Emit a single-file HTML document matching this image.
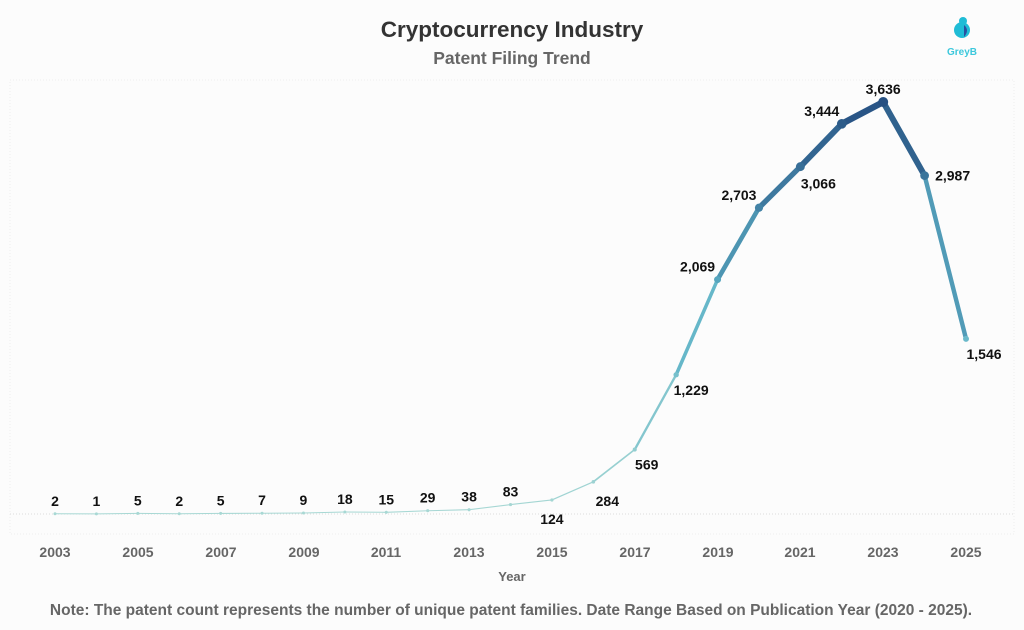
<!DOCTYPE html>
<html><head><meta charset="utf-8"><style>
body{margin:0;background:#fcfcfc;}
svg{display:block;font-family:"Liberation Sans",sans-serif;}
.l{font-size:14px;font-weight:bold;fill:#111;}
.t{font-size:14px;font-weight:bold;fill:#666;}
</style></head><body>
<svg width="1024" height="630" viewBox="0 0 1024 630">
<rect width="1024" height="630" fill="#fcfcfc"/>
<text x="512" y="37" text-anchor="middle" font-size="22.5" font-weight="bold" fill="#333">Cryptocurrency Industry</text>
<text x="512" y="64" text-anchor="middle" font-size="17.5" font-weight="bold" fill="#666">Patent Filing Trend</text>
<circle cx="962" cy="30" r="8" fill="#1fbcd6"/><circle cx="963" cy="21" r="4" fill="#1fbcd6"/>
<path d="M964 25 Q970 30 964 37 Z" fill="#2a4fa0"/>
<text x="962" y="55" text-anchor="middle" font-size="10" font-weight="bold" fill="#3cc8dc">GreyB</text>
<rect x="10" y="80" width="1004" height="454" fill="none" stroke="#eee" stroke-dasharray="1,2"/>
<line x1="10" y1="514" x2="1014" y2="514" stroke="#ddd" stroke-dasharray="1,2"/>
<g id="lines"></g>
<g class="t" text-anchor="middle">
<text x="55" y="557">2003</text><text x="138" y="557">2005</text><text x="221" y="557">2007</text><text x="304" y="557">2009</text><text x="386" y="557">2011</text><text x="469" y="557">2013</text><text x="552" y="557">2015</text><text x="635" y="557">2017</text><text x="718" y="557">2019</text><text x="800" y="557">2021</text><text x="883" y="557">2023</text><text x="966" y="557">2025</text>
<text x="512" y="581" font-size="13">Year</text>
<text x="511" y="615" font-size="15.5">Note: The patent count represents the number of unique patent families. Date Range Based on Publication Year (2020 - 2025).</text>
</g>
<g id="labels" class="l" text-anchor="middle"></g>
</svg>
<script>
var v=[2,1,5,2,5,7,9,18,15,29,38,83,124,284,569,1229,2069,2703,3066,3444,3636,2987,1546];
var X=i=>55+i*41.41,Y=a=>514-a*0.1133;
function col(t){var a=[168,216,212],b=[95,180,200],c=[38,80,130],p,q,s;if(t<0.5){p=a;q=b;s=t/0.5}else{p=b;q=c;s=(t-0.5)/0.5}return 'rgb('+p.map((x,k)=>Math.round(x+(q[k]-x)*s)).join(',')+')';}
var g=document.getElementById('lines'),h='';
for(var i=0;i<22;i++){var m=(v[i]+v[i+1])/2/3636;h+='<line x1="'+X(i)+'" y1="'+Y(v[i])+'" x2="'+X(i+1)+'" y2="'+Y(v[i+1])+'" stroke="'+col(m)+'" stroke-width="'+(1+m*5.5)+'" stroke-linecap="round"/>';}
for(var i=0;i<23;i++){var m=v[i]/3636;h+='<circle cx="'+X(i)+'" cy="'+Y(v[i])+'" r="'+(1.5+m*3.5)+'" fill="'+col(m)+'"/>';}
g.innerHTML=h;
var L='',pos={12:[0,24],13:[14,24],14:[12,20],15:[15,20],16:[-20,-8],17:[-20,-8],18:[18,22],19:[-20,-8],20:[0,-8],21:[28,5],22:[18,20]};
for(var i=0;i<23;i++){var o=pos[i]||[0,-8];L+='<text x="'+(X(i)+o[0])+'" y="'+(Y(v[i])+o[1])+'">'+v[i].toLocaleString('en-US')+'</text>';}
document.getElementById('labels').innerHTML=L;
</script>
</body></html>
